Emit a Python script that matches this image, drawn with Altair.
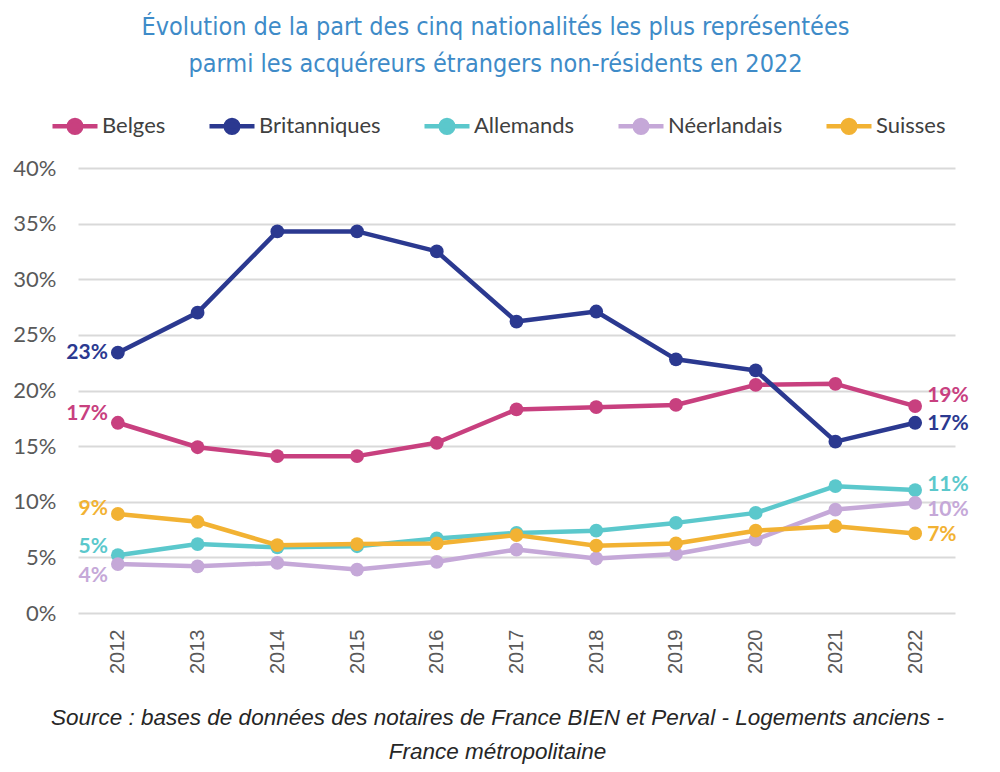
import altair as alt
import pandas as pd

years = [str(y) for y in range(2012, 2023)]
series = ["Belges", "Britanniques", "Allemands", "Néerlandais", "Suisses"]
colors = ["#C8407F", "#2B3990", "#5BC8CC", "#C5A8D8", "#F2B233"]

belges = [17.1, 14.9, 14.1, 14.1, 15.3, 18.3, 18.5, 18.7, 20.5, 20.6, 18.6]
britanniques = [23.4, 27.0, 34.3, 34.3, 32.5, 26.2, 27.1, 22.8, 21.8, 15.4, 17.1]
allemands = [5.2, 6.2, 5.9, 6.0, 6.7, 7.2, 7.4, 8.1, 9.0, 11.4, 11.05]
neerlandais = [4.4, 4.2, 4.5, 3.9, 4.6, 5.7, 4.9, 5.3, 6.6, 9.3, 9.9]
suisses = [8.9, 8.2, 6.1, 6.2, 6.25, 7.0, 6.05, 6.25, 7.4, 7.8, 7.15]

y_ticks = [0, 0.05, 0.10, 0.15, 0.20, 0.25, 0.30, 0.35, 0.40]

title_lines = [
    "Évolution de la part des cinq nationalités les plus représentées",
    "parmi les acquéreurs étrangers non-résidents en 2022",
]
source_lines = [
    "Source : bases de données des notaires de France BIEN et Perval - Logements anciens -",
    "France métropolitaine",
]

values = {
    "Belges": belges,
    "Britanniques": britanniques,
    "Allemands": allemands,
    "Néerlandais": neerlandais,
    "Suisses": suisses,
}
rows = []
for s in series:
    for yr, v in zip(years, values[s]):
        rows.append({"year": yr, "series": s, "frac": v / 100.0})
df = pd.DataFrame(rows)

color_scale = alt.Scale(domain=series, range=colors)

x_enc = alt.X(
    "year:O",
    sort=years,
    scale=alt.Scale(type="point", padding=0.5),
    axis=alt.Axis(
        labelAngle=270,
        labelFont="Liberation Sans",
        labelFontSize=20,
        labelColor="#595959",
        ticks=False,
        domain=False,
        labelPadding=16,
        title=source_lines,
        titleFont="Liberation Sans",
        titleFontStyle="italic",
        titleFontWeight="normal",
        titleFontSize=22.5,
        titleColor="#262626",
        titleX=419,
        titleY=93,
        titleAlign="center",
        titleBaseline="top",
        titleLineHeight=34,
    ),
)
y_enc = alt.Y(
    "frac:Q",
    scale=alt.Scale(domain=[0, 0.4]),
    axis=alt.Axis(
        values=y_ticks,
        format=".0%",
        grid=True,
        gridColor="#D9D9D9",
        gridWidth=2,
        domain=False,
        ticks=False,
        labelFont="Lato",
        labelFontSize=22,
        labelColor="#595959",
        labelPadding=22,
        title=None,
    ),
)

legend = alt.Legend(
    orient="none",
    legendX=-28,
    legendY=-67,
    direction="horizontal",
    title=None,
    symbolType="M-1,0H1M-0.28,0A0.28,0.28 0 1,1 0.28,0A0.28,0.28 0 1,1 -0.28,0",
    symbolSize=2025,
    symbolStrokeWidth=4.5,
    labelFont="Lato",
    labelFontSize=22,
    labelColor="#404040",
    columnPadding=34,
    labelOffset=2,
)

base = alt.Chart(df)
lines = base.mark_line(strokeWidth=4.5, strokeCap="round", strokeJoin="round").encode(
    x=x_enc, y=y_enc, color=alt.Color("series:N", scale=color_scale, legend=legend, sort=series)
)
points = base.mark_circle(size=190, opacity=1).encode(
    x=x_enc, y=y_enc, color=alt.Color("series:N", scale=color_scale, legend=legend, sort=series)
)

left_dy = {"Belges": -9, "Britanniques": 0, "Allemands": -8, "Néerlandais": 12, "Suisses": -5}
right_dy = {"Belges": -10, "Britanniques": 1, "Allemands": -5, "Néerlandais": 7, "Suisses": 2}

label_layers = []
for s in series:
    label_layers.append(
        base.transform_filter(
            (alt.datum.series == s) & (alt.datum.year == years[0])
        ).mark_text(
            align="right", baseline="middle", dx=-10, dy=left_dy[s],
            font="Lato", fontWeight="bold", fontSize=21,
        ).encode(
            x=x_enc, y=y_enc,
            text=alt.Text("frac:Q", format=".0%"),
            color=alt.Color("series:N", scale=color_scale, legend=None),
        )
    )
    label_layers.append(
        base.transform_filter(
            (alt.datum.series == s) & (alt.datum.year == years[-1])
        ).mark_text(
            align="left", baseline="middle", dx=12, dy=right_dy[s],
            font="Lato", fontWeight="bold", fontSize=21,
        ).encode(
            x=x_enc, y=y_enc,
            text=alt.Text("frac:Q", format=".0%"),
            color=alt.Color("series:N", scale=color_scale, legend=None),
        )
    )

chart = alt.layer(lines, points, *label_layers).properties(
    width=877,
    height=445,
    background="white",
    autosize=alt.AutoSizeParams(type="none"),
    padding={"left": 70, "top": 160, "right": 37, "bottom": 155},
    title=alt.Title(
        title_lines,
        font="Liberation Sans Narrow, DejaVu Sans Condensed, Roboto",
        fontSize=25,
        fontWeight="normal",
        color="#3E8BC8",
        anchor="middle",
        frame="group",
        dx=-21,
        offset=24,
        lineHeight=37,
    ),
).configure_view(strokeWidth=0, stroke="transparent")

chart.save("out.html", embed_options={"renderer": "svg", "actions": False})
